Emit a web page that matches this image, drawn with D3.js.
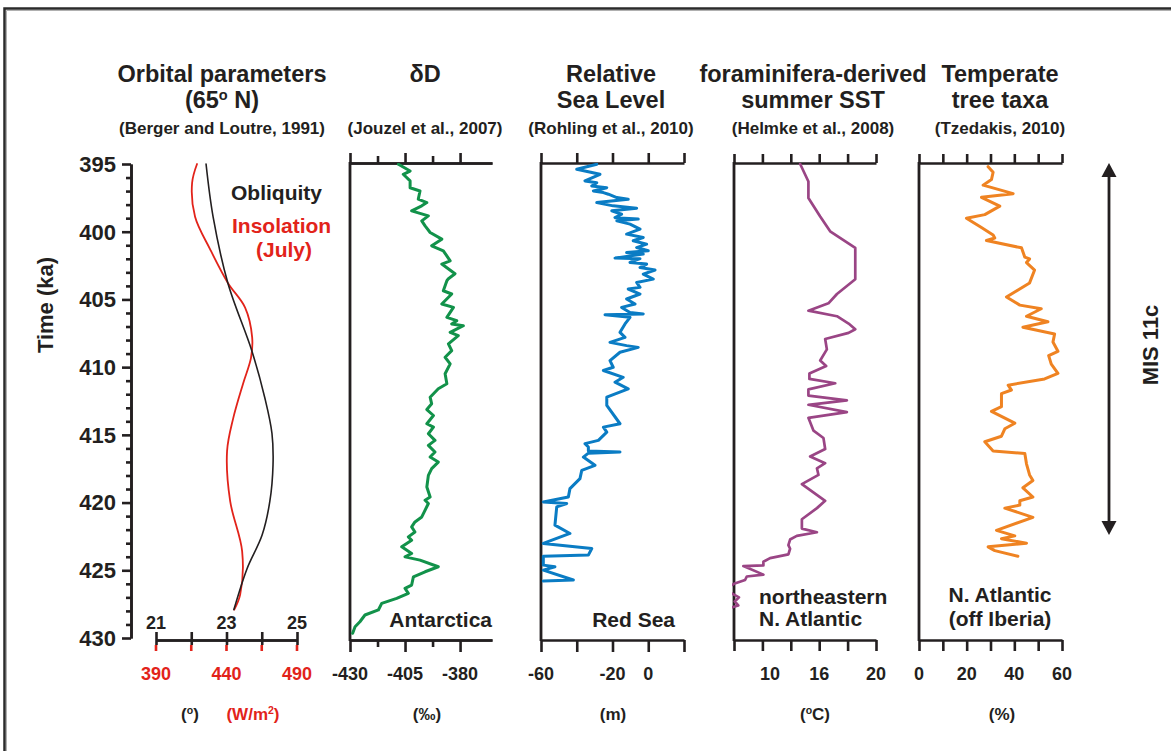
<!DOCTYPE html>
<html>
<head>
<meta charset="utf-8">
<script src="https://cdn.jsdelivr.net/npm/d3@7/dist/d3.min.js"></script>
<style>
  body { margin: 0; background: #fff; }
  svg { display: block; font-family: "Liberation Sans", Arial, Helvetica, sans-serif; font-weight: bold; }
  .ax path, .ax line { stroke: #231f20; stroke-width: 2.6px; fill: none; }
  .ax text { display: none; }
</style>
</head>
<body>
<svg id="chart" width="1171" height="751"></svg>
<script>
// ---- Time axis (ka) ----
const ageTicks = [395, 400, 405, 410, 415, 420, 425, 430];

// ---- Orbital parameters, 65° N ----
const obliquityAge = [395.0, 398.9, 403.8, 408.8, 412.3, 414.9, 417.2, 419.9, 422.4, 424.9, 427.9];
const obliquity    = [22.42, 22.62, 23.04, 23.72, 24.09, 24.29, 24.32, 24.23, 24.01, 23.58, 23.21];
const insolationAge = [395.0, 396.4, 398.9, 401.3, 403.8, 405.6, 407.8, 409.3, 411.2, 413.8, 416.2, 419.9, 423.6, 426.8, 427.9];
const insolation    = [419.1, 415.6, 417.7, 428.4, 441.1, 453.2, 458.2, 457.4, 451.8, 444.7, 440.4, 442.6, 451.1, 449.7, 445.5];

// ---- Antarctic deuterium (‰) ----
const deltaDAge = [395.02,395.52,395.76,396.25,396.75,396.99,397.60,397.85,398.09,398.46,398.83,399.20,399.57,400.06,400.55,401.04,401.41,402.15,402.39,403.10,403.47,403.62,404.36,404.60,405.34,405.59,406.32,406.57,406.81,406.94,407.43,407.67,408.28,408.78,409.27,409.76,410.49,411.23,411.60,412.22,412.71,413.13,413.57,414.18,414.43,414.92,415.41,415.78,416.27,416.64,417.01,417.49,417.99,418.85,419.59,419.83,420.07,421.06,421.43,421.80,422.17,422.53,422.78,423.27,423.76,424.01,424.25,424.74,425.11,425.48,426.09,426.34,426.70,427.07,427.44,427.93,428.30,428.80,429.17,429.65];
const deltaD    = [-408.0,-402.7,-405.8,-402.7,-402.7,-398.2,-399.0,-395.1,-397.4,-402.0,-394.4,-397.4,-395.9,-393.6,-388.3,-392.9,-387.6,-384.5,-388.3,-382.3,-385.3,-386.0,-387.6,-383.8,-388.3,-383.0,-386.0,-381.5,-383.8,-378.5,-384.5,-380.8,-385.3,-383.8,-386.8,-384.5,-386.8,-386.0,-389.9,-393.6,-392.9,-395.1,-392.1,-395.1,-392.1,-394.4,-391.4,-394.4,-391.4,-393.6,-389.9,-392.9,-394.4,-395.1,-393.6,-395.9,-394.4,-397.4,-400.5,-402.0,-400.5,-403.5,-402.0,-406.5,-402.0,-405.0,-398.2,-389.9,-395.9,-401.2,-402.0,-405.0,-403.5,-408.8,-415.6,-417.1,-423.2,-425.5,-427.7,-428.8];

// ---- Red Sea relative sea level (m) ----
const seaLevelAge = [395.02,395.39,395.76,396.25,396.38,396.62,396.75,396.99,397.11,397.23,397.48,397.60,397.85,398.09,398.26,398.46,398.71,398.96,399.07,399.20,399.44,399.81,400.18,400.43,400.67,400.92,401.17,401.41,401.54,401.65,401.95,401.99,402.27,402.39,402.64,402.83,403.13,403.50,403.75,404.11,404.23,404.60,404.97,405.34,405.59,405.96,406.07,406.13,406.32,406.81,407.43,407.80,408.17,408.41,408.54,408.90,409.52,410.01,410.25,410.75,411.11,411.60,412.22,412.83,414.18,414.43,414.80,415.41,415.65,415.90,416.20,416.27,416.35,416.64,417.25,417.62,418.23,418.97,419.59,419.96,420.07,420.32,421.67,422.28,423.02,423.39,423.88,423.96,424.62,424.74,424.99,425.72,425.80];
const seaLevel    = [-28.8,-40.0,-27.0,-35.4,-28.8,-31.6,-23.2,-30.7,-25.1,-22.3,-17.6,-11.2,-28.8,-19.6,-6.5,-20.4,-14.9,-18.6,-5.6,-17.6,-10.2,-4.6,-12.1,-2.8,-8.4,-0.9,-6.5,0.0,-12.1,-2.8,-18.6,-4.6,-10.2,-0.9,-4.6,3.8,-2.8,2.8,-6.5,-4.6,-11.2,-4.6,-12.1,-7.4,-14.9,-10.2,-2.8,-24.2,-10.2,-13.0,-15.8,-13.0,-21.4,-12.1,-5.6,-15.8,-21.4,-19.6,-25.1,-14.0,-18.6,-11.2,-23.2,-23.2,-15.8,-25.1,-23.2,-27.9,-35.4,-33.5,-33.5,-15.8,-33.5,-36.3,-29.8,-37.2,-38.2,-43.8,-44.7,-58.7,-45.6,-51.2,-52.2,-43.8,-58.7,-31.6,-33.5,-58.7,-58.7,-52.2,-58.7,-41.9,-58.7];

// ---- Northeastern North Atlantic summer SST (°C) ----
const sstAge = [395.0,396.29,397.51,398.88,399.97,401.20,403.51,404.60,405.29,405.83,406.24,406.78,407.20,407.47,407.92,408.69,409.51,409.92,410.47,410.87,411.19,411.64,412.10,412.45,412.78,413.32,413.74,414.69,415.23,416.05,416.60,417.09,417.47,417.96,418.64,419.87,420.41,421.23,421.92,422.19,422.46,422.73,423.14,423.41,423.82,424.10,424.37,424.64,424.69,425.32,425.46,425.72,426.00,426.40,427.00,427.30,427.60,427.90];
const sst    = [14.66,15.24,15.24,16.07,16.77,18.54,18.54,17.25,16.65,15.24,17.25,18.07,18.54,18.07,16.42,16.54,16.07,16.49,15.31,15.31,17.13,15.24,15.24,17.95,15.24,17.95,15.24,15.60,16.30,16.42,15.36,16.42,15.84,15.95,14.78,16.42,15.84,14.78,14.78,15.84,14.42,13.95,13.83,13.95,13.83,12.54,12.07,12.07,10.66,12.07,10.90,10.78,10.0,9.3,10.35,10.05,10.30,9.3];

// ---- Temperate tree taxa off Iberia (%) ----
const treeAge = [395.20,395.61,396.15,396.56,397.19,397.46,398.11,398.74,399.01,399.69,400.24,400.46,400.65,401.19,401.88,402.01,402.28,402.83,403.78,404.82,405.42,405.69,406.24,406.65,407.05,407.55,408.15,408.83,409.15,409.78,410.46,410.87,411.33,411.69,411.96,412.92,413.27,414.14,414.55,415.10,415.51,416.19,416.38,417.14,417.96,418.37,418.91,419.59,419.87,420.19,420.41,421.09,422.05,422.46,422.67,423.00,423.27,423.55,423.96];
const treeTaxa = [29.0,31.1,30.4,26.9,39.5,26.2,33.9,27.6,19.9,26.2,31.1,31.8,28.3,43.0,44.4,46.4,45.1,48.5,46.4,36.7,42.3,51.3,45.1,54.1,43.6,56.9,56.2,58.3,54.4,55.5,58.3,52.7,37.4,38.8,34.6,34.6,30.4,40.2,36.0,34.6,27.6,31.1,44.4,45.1,46.4,47.8,43.6,47.8,42.3,42.3,36.0,47.8,32.5,40.2,34.6,45.1,29.0,31.8,41.5];

// ---- Panel headings ----
const panelTitles = [["Orbital parameters", "(65^o N)"], ["δD"], ["Relative", "Sea Level"], ["foraminifera-derived", "summer SST"], ["Temperate", "tree taxa"]];
const citations = ["(Berger and Loutre, 1991)", "(Jouzel et al., 2007)", "(Rohling et al., 2010)", "(Helmke et al., 2008)", "(Tzedakis, 2010)"];
const titleCentres = [222, 425, 611, 813, 1000];

const ink = "#231f20";
const red = "#e2231a";
const svg = d3.select("#chart");

// text with "^x" marking a superscript character
function rich(sel, str) {
  str.split(/(\^.)/).filter(s => s.length).forEach(part => {
    if (part[0] === "^") {
      sel.append("tspan").attr("baseline-shift", "super").style("font-size", "62%").text(part.slice(1));
    } else {
      sel.append("tspan").text(part);
    }
  });
  return sel;
}

// outer frame
svg.append("path").attr("d", "M4.5,751V8.5H1171").attr("fill", "none").attr("stroke", "#2a2a2a").attr("stroke-width", 2.5);
svg.append("path").attr("d", "M6.5,751V10.5H1171").attr("fill", "none").attr("stroke", "#b0b0b0").attr("stroke-width", 1);

// ---- scales ----
const yTop = 163, yBot = 640;
const y = d3.scaleLinear().domain([395, 430]).range([164, 638]);
const obliqX = d3.scaleLinear().domain([21, 25]).range([156, 297]);
const insolX = d3.scaleLinear().domain([390, 490]).range([156, 297]);
const dDX = d3.scaleLinear().domain([-430, -365.5]).range([350, 492]);
const slX = d3.scaleLinear().domain([-60, 20]).range([541, 684]);
const sstX = d3.scaleLinear().domain([10, 20]).range([734, 876]);
const treeX = d3.scaleLinear().domain([0, 60]).range([919, 1062]);

// ---- titles ----
panelTitles.forEach((lines, i) => {
  lines.forEach((ln, j) => {
    const t = svg.append("text").attr("x", titleCentres[i]).attr("y", 82 + j * 25.5)
      .attr("text-anchor", "middle").attr("fill", ink).style("font-size", "23.5px");
    rich(t, ln);
  });
  svg.append("text").attr("x", titleCentres[i]).attr("y", 134).attr("text-anchor", "middle")
    .attr("fill", ink).style("font-size", "17px").text(citations[i]);
});

// ---- time axis ----
svg.append("g").attr("class", "ax").attr("transform", "translate(131,0)")
  .call(d3.axisLeft(y).tickValues(ageTicks).tickSize(9).tickSizeOuter(0).tickFormat(""));
svg.append("g").attr("class", "ax").attr("transform", "translate(131,0)")
  .call(d3.axisLeft(y).tickValues(d3.range(395, 431).filter(v => v % 5 !== 0)).tickSize(5).tickSizeOuter(0).tickFormat(""));
svg.selectAll("text.age").data(ageTicks).join("text").attr("class", "age")
  .attr("x", 116).attr("y", d => y(d)).attr("dy", "0.36em").attr("text-anchor", "end")
  .attr("fill", ink).style("font-size", "22px").text(d => d);
svg.append("text").attr("transform", "translate(53,305) rotate(-90)").attr("text-anchor", "middle")
  .attr("fill", ink).style("font-size", "22px").text("Time (ka)");

// ---- generic proxy panel frame ----
function frame(x, major, minor, majorLen, minorLen, labelled, unit, labelShift) {
  const g = svg.append("g");
  const [x0] = x.range();
  g.append("g").attr("class", "ax").attr("transform", `translate(0,${yTop})`)
    .call(d3.axisTop(x).tickValues(major).tickSize(majorLen).tickSizeOuter(0).tickFormat(""));
  g.append("g").attr("class", "ax").attr("transform", `translate(0,${yBot})`)
    .call(d3.axisBottom(x).tickValues(major).tickSize(majorLen + 2).tickSizeOuter(0).tickFormat(""));
  if (minor.length) {
    g.append("g").attr("class", "ax").attr("transform", `translate(0,${yTop})`)
      .call(d3.axisTop(x).tickValues(minor).tickSize(minorLen).tickSizeOuter(0).tickFormat(""));
    g.append("g").attr("class", "ax").attr("transform", `translate(0,${yBot})`)
      .call(d3.axisBottom(x).tickValues(minor).tickSize(minorLen).tickSizeOuter(0).tickFormat(""));
  }
  g.append("line").attr("x1", x0).attr("x2", x0).attr("y1", yTop - 1).attr("y2", yBot + 1)
    .attr("stroke", ink).attr("stroke-width", 2.8);
  g.selectAll("text.tl").data(labelled).join("text").attr("class", "tl")
    .attr("x", d => x(d) + ((labelShift && labelShift[d]) || 0)).attr("y", 680)
    .attr("text-anchor", "middle").attr("fill", ink).style("font-size", "18px").text(d => d);
  const u = svg.append("text").attr("x", unit[1]).attr("y", 720).attr("text-anchor", "middle")
    .attr("fill", ink).style("font-size", "17px");
  rich(u, unit[0]);
}

function clip(id, x) {
  const [x0, x1] = x.range();
  svg.append("clipPath").attr("id", id).append("rect")
    .attr("x", x0 - 2).attr("y", yTop).attr("width", x1 - x0 + 2).attr("height", yBot - yTop);
  return `url(#${id})`;
}

function trace(x, ages, vals, colour, width, clipId, curve) {
  const gen = d3.line().x((d, i) => x(vals[i])).y(d => y(d));
  if (curve) gen.curve(curve);
  svg.append("path").attr("d", gen(ages)).attr("fill", "none").attr("stroke", colour)
    .attr("stroke-width", width).attr("stroke-linejoin", "round").attr("stroke-linecap", "round")
    .attr("clip-path", clipId ? clip(clipId, x) : null);
}

// ---- orbital panel ----
const orbAxis = svg.append("g");
orbAxis.append("g").attr("class", "ax").attr("transform", `translate(0,${yBot})`)
  .call(d3.axisBottom(obliqX).tickValues([21, 22, 23, 24, 25]).tickSize(5).tickSizeOuter(0).tickFormat(""));
orbAxis.append("g").attr("class", "ax").attr("transform", `translate(0,${yBot})`)
  .call(d3.axisTop(obliqX).tickValues([21, 22, 23, 24, 25]).tickSize(8).tickSizeOuter(0).tickFormat(""));
orbAxis.selectAll("line.rt").data([390, 415, 440, 465, 490]).join("line").attr("class", "rt")
  .attr("x1", d => insolX(d)).attr("x2", d => insolX(d)).attr("y1", yBot + 5).attr("y2", yBot + 11)
  .attr("stroke", red).attr("stroke-width", 2.6);
orbAxis.selectAll("text.ob").data([21, 23, 25]).join("text").attr("class", "ob")
  .attr("x", d => obliqX(d)).attr("y", 629).attr("text-anchor", "middle")
  .attr("fill", ink).style("font-size", "18px").text(d => d);
orbAxis.selectAll("text.in").data([390, 440, 490]).join("text").attr("class", "in")
  .attr("x", d => insolX(d)).attr("y", 680).attr("text-anchor", "middle")
  .attr("fill", red).style("font-size", "18px").text(d => d);
rich(svg.append("text").attr("x", 190).attr("y", 720).attr("text-anchor", "middle").attr("fill", ink).style("font-size", "17px"), "(^o)");
rich(svg.append("text").attr("x", 253).attr("y", 720).attr("text-anchor", "middle").attr("fill", red).style("font-size", "17px"), "(W/m^2)");

trace(insolX, insolationAge, insolation, red, 1.8, null, d3.curveCatmullRom);
trace(obliqX, obliquityAge, obliquity, ink, 1.6, null, d3.curveCatmullRom);

svg.append("text").attr("x", 231).attr("y", 200).attr("fill", ink).style("font-size", "21px").text("Obliquity");
svg.append("text").attr("x", 232).attr("y", 233).attr("fill", red).style("font-size", "21px").text("Insolation");
svg.append("text").attr("x", 284).attr("y", 257).attr("text-anchor", "middle").attr("fill", red).style("font-size", "21px").text("(July)");

// ---- δD ----
frame(dDX, [-430, -405, -380], [-417.5, -392.5], 10, 7, [-430, -405, -380], ["(‰)", 427]);
trace(dDX, deltaDAge, deltaD, "#12924a", 3, "clipDD");
svg.append("text").attr("x", 492).attr("y", 627).attr("text-anchor", "end").attr("fill", ink).style("font-size", "21px").text("Antarctica");

// ---- sea level ----
frame(slX, [-60, -40, -20, 0, 20], [], 10, 0, [-60, -20, 0], ["(m)", 613]);
trace(slX, seaLevelAge, seaLevel, "#0a7cc4", 3, "clipSL");
svg.append("text").attr("x", 675).attr("y", 627).attr("text-anchor", "end").attr("fill", ink).style("font-size", "21px").text("Red Sea");

// ---- SST ----
frame(sstX, [10, 12, 14, 16, 18, 20], [], 9, 0, [10, 16, 20], ["(^oC)", 815], {10: 36});
trace(sstX, sstAge, sst, "#9a4585", 2.7, "clipSST");
svg.append("text").attr("x", 759).attr("y", 604).attr("fill", ink).style("font-size", "21px").text("northeastern");
svg.append("text").attr("x", 759).attr("y", 626).attr("fill", ink).style("font-size", "21px").text("N. Atlantic");

// ---- tree taxa ----
frame(treeX, [0, 10, 20, 30, 40, 50, 60], [], 9, 0, [0, 20, 40, 60], ["(%)", 1002]);
trace(treeX, treeAge, treeTaxa, "#ef8322", 3, "clipTree");
svg.append("text").attr("x", 1000).attr("y", 602).attr("text-anchor", "middle").attr("fill", ink).style("font-size", "21px").text("N. Atlantic");
svg.append("text").attr("x", 1000).attr("y", 626).attr("text-anchor", "middle").attr("fill", ink).style("font-size", "21px").text("(off Iberia)");

// ---- MIS 11c interval arrow ----
const misSpan = [395, 422.4];
const ax = 1109, head = 14, halfW = 7.5;
svg.append("line").attr("x1", ax).attr("x2", ax).attr("y1", y(misSpan[0]) + head - 2).attr("y2", y(misSpan[1]) - head + 2)
  .attr("stroke", ink).attr("stroke-width", 2.8);
svg.append("path").attr("fill", ink)
  .attr("d", `M${ax},${y(misSpan[0]) - 1}l${halfW},${head}h${-2 * halfW}Z`);
svg.append("path").attr("fill", ink)
  .attr("d", `M${ax},${y(misSpan[1])}l${halfW},${-head}h${-2 * halfW}Z`);
svg.append("text").attr("transform", "translate(1158,345) rotate(-90)").attr("text-anchor", "middle")
  .attr("fill", ink).style("font-size", "22px").text("MIS 11c");
</script>
</body>
</html>
